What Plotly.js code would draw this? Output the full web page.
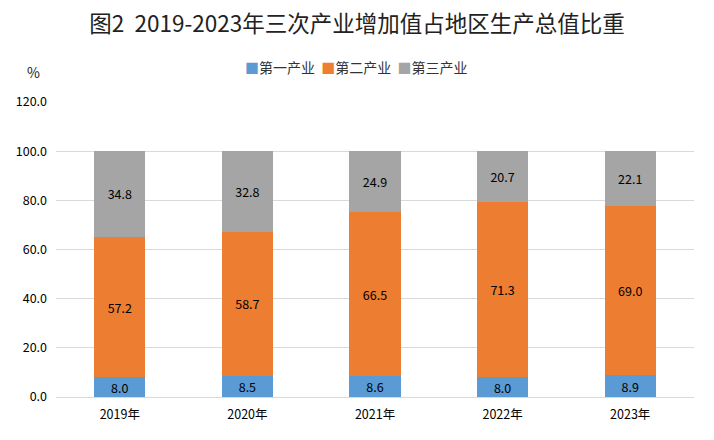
<!DOCTYPE html>
<html><head><meta charset="utf-8">
<script src="https://cdn.plot.ly/plotly-3.0.1.min.js"></script>
<style>html,body{margin:0;padding:0;background:#fff}#c{width:714px;height:440px}</style>
</head><body><div id="c"></div>
<script>
const years = ['2019年','2020年','2021年','2022年','2023年'];
const primary = [8.0, 8.5, 8.6, 8.0, 8.9];
const secondary = [57.2, 58.7, 66.5, 71.3, 69.0];
const tertiary = [34.8, 32.8, 24.9, 20.7, 22.1];
const names = ['第一产业','第二产业','第三产业'];
const colors = ['#5B9BD5','#ED7D31','#A5A5A5'];
const font = '"Noto Sans CJK SC", "DejaVu Sans", sans-serif';
const series = [primary, secondary, tertiary];
const traces = series.map((s,i)=>({
  type:'bar', x: years, y: s, name: names[i],
  marker:{color: colors[i]},
  text: s.map(v=>v.toFixed(1)), textposition:'inside', insidetextanchor:'middle',
  textangle:0, constraintext:'none',
  textfont:{color:'#000', size:12.5, family:font}, hoverinfo:'none'
}));
const legendText = names.map((n,i)=>'<span style="color:'+colors[i]+'">■</span>'+n).join('  ');
const layout = {
  barmode:'stack', bargap:0.6,
  width:714, height:440,
  margin:{l:56, r:20, t:102, b:43},
  paper_bgcolor:'#fff', plot_bgcolor:'#fff',
  font:{family:font, color:'#000'},
  title:{text:'图2  2019-2023年三次产业增加值占地区生产总值比重', x:0.5, xanchor:'center', y:0.945, yanchor:'middle', font:{size:22.5, color:'#222', family:font}},
  showlegend:false,
  xaxis:{showgrid:false, showline:false, ticks:'', ticklabelstandoff:8, tickfont:{size:12.5, color:'#000'}, fixedrange:true},
  yaxis:{range:[0,120], dtick:20, tickformat:'.1f', showgrid:true, gridcolor:'#d9d9d9', gridwidth:1, zeroline:true, zerolinecolor:'#d9d9d9', showline:false, ticks:'', ticklabelstandoff:8, tickfont:{size:12.5, color:'#000'}, fixedrange:true},
  annotations:[
    {text:'%', xref:'paper', yref:'paper', x:-0.035, y:1.1, xanchor:'center', yanchor:'middle', showarrow:false, font:{size:14, color:'#222', family:font}},
    {text:legendText, xref:'paper', yref:'paper', x:0.5, xanchor:'center', xshift:-19, y:1.118, yanchor:'middle', showarrow:false, font:{size:14, color:'#333', family:font}}
  ]
};
Plotly.newPlot('c', traces, layout, {displayModeBar:false, staticPlot:true});
</script></body></html>
